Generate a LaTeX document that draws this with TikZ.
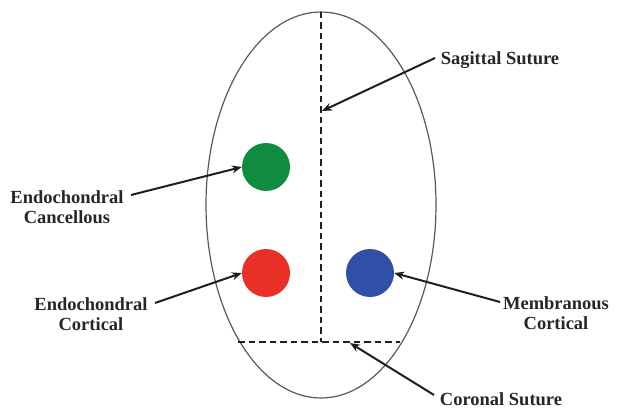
\documentclass[tikz,border=0pt]{standalone}
\usepackage{fontspec}
\setmainfont{Liberation Serif}
\usetikzlibrary{arrows.meta,shapes.geometric}
\definecolor{dotgreen}{RGB}{16,140,64}
\definecolor{dotred}{RGB}{232,48,40}
\definecolor{dotblue}{RGB}{48,80,168}
\begin{document}
\begin{tikzpicture}[x=1pt,y=-1pt,
  lbl/.style={font=\bfseries\fontsize{18.5}{19.5}\selectfont, text=black!85, align=center, inner sep=1pt},
  dot/.style={circle, minimum size=48pt, inner sep=0pt, draw=none},
  pointer/.style={-{Stealth[length=10pt,width=8pt]}, line width=2pt, black!88},
  suture/.style={dashed, dash pattern=on 6.5pt off 4pt, line width=2.3pt, black!88}]
\useasboundingbox (0,0) rectangle (621,417);
\node[draw=black!65, line width=1.2pt, ellipse, minimum width=230pt, minimum height=386pt, inner sep=0pt] (skull) at (321,205) {};
\coordinate (st) at (321,12);
\coordinate (sb) at (321,342);
\coordinate (cl) at (238,342);
\coordinate (cr) at (400,342);
\draw[suture] (st) -- (sb);
\draw[suture] (cl) -- (cr);
\node[dot, fill=dotgreen] (g) at (266,167) {};
\node[dot, fill=dotred] (r) at (266,273) {};
\node[dot, fill=dotblue] (b) at (370,273) {};
\coordinate (sagtip) at (322,111);
\coordinate (cortip) at (350,343);
\node[lbl] (sag) at (500,60) {Sagittal Suture};
\node[lbl] (canc) at (67,207) {Endochondral\\Cancellous};
\node[lbl] (ecort) at (91,314) {Endochondral\\Cortical};
\node[lbl] (mcort) at (556,313) {Membranous\\Cortical};
\node[lbl] (cor) at (501,399) {Coronal Suture};
\coordinate (sagtail) at (435,58);
\coordinate (canctail) at (131,195);
\coordinate (ecorttail) at (155,303);
\coordinate (mcorttail) at (500,302);
\coordinate (cortail) at (434,395);
\draw[pointer] (sagtail) -- (sagtip);
\draw[pointer] (canctail) -- (g.west);
\draw[pointer] (ecorttail) -- (r.west);
\draw[pointer] (mcorttail) -- (b.east);
\draw[pointer] (cortail) -- (cortip);
\end{tikzpicture}
\end{document}
